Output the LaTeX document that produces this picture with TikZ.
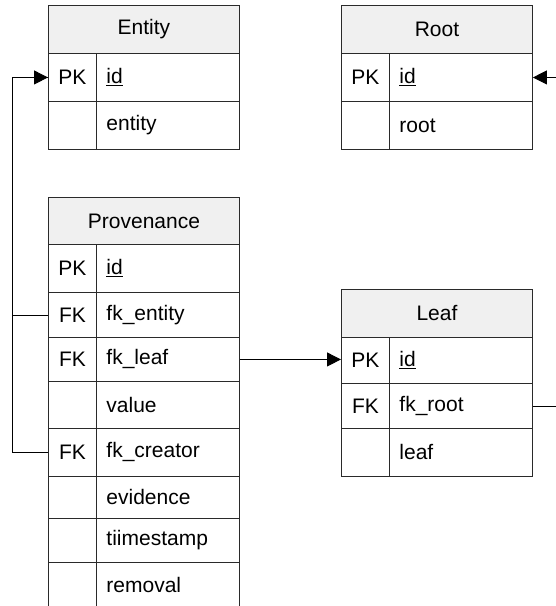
\documentclass[tikz,border=0pt]{standalone}
\usepackage{fontspec}
\setmainfont{Liberation Sans}
\usetikzlibrary{arrows.meta}
\definecolor{hdrgray}{HTML}{F0F0F0}
\definecolor{linegray}{HTML}{2A2A2A}
\begin{document}
\begin{tikzpicture}[x=1pt,y=-1pt,
  every node/.style={font=\fontsize{21}{24}\selectfont},
  hdr/.style={draw=linegray, line width=0.9pt, fill=hdrgray, anchor=north west, minimum width=191pt, inner sep=0pt},
  keycell/.style={draw=linegray, line width=0.9pt, anchor=north west, minimum width=48pt, inner sep=0pt},
  fieldcell/.style={draw=linegray, line width=0.9pt, anchor=north west, minimum width=143pt, text width=123pt, inner xsep=10pt, inner ysep=0pt, align=left},
  conn/.style={draw=black, line width=0.9pt},
  arr/.style={conn, -{Triangle[length=14pt,width=14pt]}}
]
\useasboundingbox (0,0) rectangle (556,606);
\clip (0,0) rectangle (556,606);

% ---------- Entity ----------
\node[hdr, minimum height=48pt] (eh) at (48,5) {Entity};
\node[keycell, minimum height=48pt] (ek1) at (48,53) {PK};
\node[fieldcell, minimum height=48pt] (ef1) at (96,53) {\underline{id}};
\node[keycell, minimum height=48pt] (ek2) at (48,101) {};
\node[fieldcell, minimum height=48pt] (ef2) at (96,101) {entity};

% ---------- Root ----------
\node[hdr, minimum height=48pt] (rh) at (341,5) {Root};
\node[keycell, minimum height=48pt] (rk1) at (341,53) {PK};
\node[fieldcell, minimum height=48pt] (rf1) at (389,53) {\underline{id}};
\node[keycell, minimum height=48pt] (rk2) at (341,101) {};
\node[fieldcell, minimum height=48pt] (rf2) at (389,101) {root};

% ---------- Provenance ----------
\node[hdr, minimum height=47pt] (ph) at (48,197) {Provenance};
\node[keycell, minimum height=48pt] (pk1) at (48,244) {PK};
\node[fieldcell, minimum height=48pt] (pf1) at (96,244) {\underline{id}};
\node[keycell, minimum height=45pt] (pk2) at (48,292) {FK};
\node[fieldcell, minimum height=45pt] (pf2) at (96,292) {fk\_entity};
\node[keycell, minimum height=44pt] (pk3) at (48,337) {FK};
\node[fieldcell, minimum height=44pt] (pf3) at (96,337) {fk\_leaf};
\node[keycell, minimum height=47pt] (pk4) at (48,381) {};
\node[fieldcell, minimum height=47pt] (pf4) at (96,381) {value};
\node[keycell, minimum height=48pt] (pk5) at (48,428) {FK};
\node[fieldcell, minimum height=48pt] (pf5) at (96,428) {fk\_creator};
\node[keycell, minimum height=42pt] (pk6) at (48,476) {};
\node[fieldcell, minimum height=42pt] (pf6) at (96,476) {evidence};
\node[keycell, minimum height=44pt] (pk7) at (48,518) {};
\node[fieldcell, minimum height=44pt] (pf7) at (96,518) {tiimestamp};
\node[keycell, minimum height=46pt] (pk8) at (48,562) {};
\node[fieldcell, minimum height=46pt] (pf8) at (96,562) {removal};

% ---------- Leaf ----------
\node[hdr, minimum height=48pt] (lh) at (341,289) {Leaf};
\node[keycell, minimum height=46pt] (lk1) at (341,337) {PK};
\node[fieldcell, minimum height=46pt] (lf1) at (389,337) {\underline{id}};
\node[keycell, minimum height=45pt] (lk2) at (341,383) {FK};
\node[fieldcell, minimum height=45pt] (lf2) at (389,383) {fk\_root};
\node[keycell, minimum height=48pt] (lk3) at (341,428) {};
\node[fieldcell, minimum height=48pt] (lf3) at (389,428) {leaf};

% ---------- Connectors ----------
\draw[conn] (pk5.west) -- ++(-36,0) |- (ek1.west);
\draw[arr] (pk2.west) -- ++(-36,0) |- (ek1.west);
\draw[arr] (pf3.east) -- (pf3.east -| lk1.west);
\draw[arr] (lf2.east) -- ++(40,0) |- (rf1.east);
\end{tikzpicture}
\end{document}
